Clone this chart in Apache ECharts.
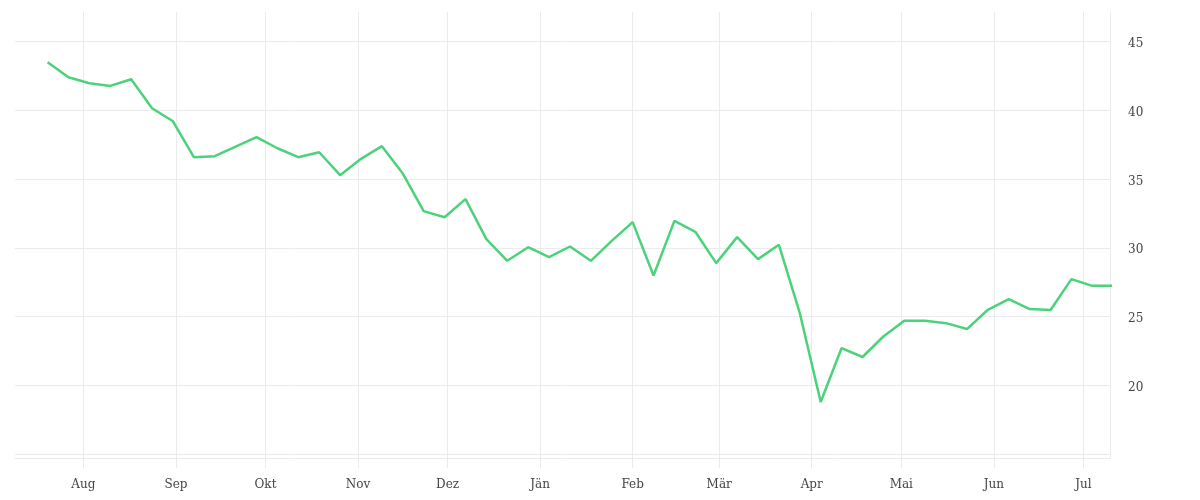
<!DOCTYPE html>
<html>
<head>
<meta charset="utf-8">
<script src="https://cdn.jsdelivr.net/npm/echarts@6/dist/echarts.min.js"></script>
<style>
html,body{margin:0;padding:0;background:#fff;}
#chart{width:1200px;height:500px;}
</style>
</head>
<body>
<div id="chart"></div>
<script>
const dates = ['2019-07-20','2019-07-27','2019-08-03','2019-08-10','2019-08-17','2019-08-24','2019-08-31',
  '2019-09-07','2019-09-14','2019-09-21','2019-09-28','2019-10-05','2019-10-12','2019-10-19','2019-10-26',
  '2019-11-02','2019-11-09','2019-11-16','2019-11-23','2019-11-30','2019-12-07','2019-12-14','2019-12-21','2019-12-28',
  '2020-01-04','2020-01-11','2020-01-18','2020-01-25','2020-02-01','2020-02-08','2020-02-15','2020-02-22','2020-02-29',
  '2020-03-07','2020-03-14','2020-03-21','2020-03-28','2020-04-04','2020-04-11','2020-04-18','2020-04-25',
  '2020-05-02','2020-05-09','2020-05-16','2020-05-23','2020-05-30','2020-06-06','2020-06-13','2020-06-20','2020-06-27',
  '2020-07-04','2020-07-11'];
const values = [43.49,42.40,41.96,41.77,42.25,40.15,39.20,36.59,36.66,37.36,
  38.04,37.24,36.59,36.95,35.28,36.47,37.39,35.40,32.67,32.23,
  33.54,30.64,29.06,30.05,29.33,30.10,29.06,30.51,31.87,27.99,
  31.96,31.17,28.89,30.78,29.18,30.22,25.26,18.80,22.72,22.07,
  23.56,24.70,24.70,24.53,24.10,25.50,26.28,25.55,25.48,27.73,
  27.24,27.24];
const monthNames = ['Jän','Feb','Mär','Apr','Mai','Jun','Jul','Aug','Sep','Okt','Nov','Dez'];
const yTickLabels = [20,25,30,35,40,45];

const chart = echarts.init(document.getElementById('chart'));
const gridColor = '#ebebeb';
const labelFont = 'DejaVu Serif';
chart.setOption({
  animation: false,
  grid: {left: 15, right: 90, top: 12, bottom: 42, containLabel: false},
  xAxis: {
    type: 'time',
    min: '2019-07-09 02:00:00',
    max: '2020-07-09 22:00:00',
    splitNumber: 12,
    minInterval: 28 * 86400000,
    maxInterval: 31 * 86400000,
    axisLine: {show: true, lineStyle: {color: gridColor, width: 1}},
    axisTick: {show: true, inside: false, length: 10, lineStyle: {color: gridColor, width: 1}},
    splitLine: {show: true, showMinLine: false, showMaxLine: false, lineStyle: {color: gridColor, width: 1}},
    axisLabel: {
      margin: 21,
      color: '#444',
      fontFamily: labelFont,
      fontSize: 12,
      showMinLabel: false,
      showMaxLabel: false,
      formatter: function (v) { return monthNames[new Date(v).getMonth()]; }
    }
  },
  yAxis: {
    type: 'value',
    position: 'right',
    min: 14.73,
    max: 47.14,
    axisLine: {show: true, lineStyle: {color: gridColor, width: 1}},
    axisTick: {show: false},
    splitLine: {show: true, showMinLine: false, showMaxLine: false, lineStyle: {color: gridColor, width: 1}},
    axisLabel: {
      margin: 18,
      color: '#444',
      fontFamily: labelFont,
      fontSize: 12,
      rich: {
        a: {padding: [5, 0, 0, 0], color: '#444', fontFamily: labelFont, fontSize: 12}
      },
      formatter: function (v) { return yTickLabels.indexOf(Math.round(v * 1000) / 1000) >= 0 ? '{a|' + v + '}' : ''; }
    }
  },
  series: [{
    type: 'line',
    data: dates.map((d, i) => [d, values[i]]),
    showSymbol: false,
    symbol: 'none',
    clip: true,
    lineStyle: {color: '#4cd27b', width: 2.5},
    itemStyle: {color: '#4cd27b'}
  }]
});
</script>
</body>
</html>
